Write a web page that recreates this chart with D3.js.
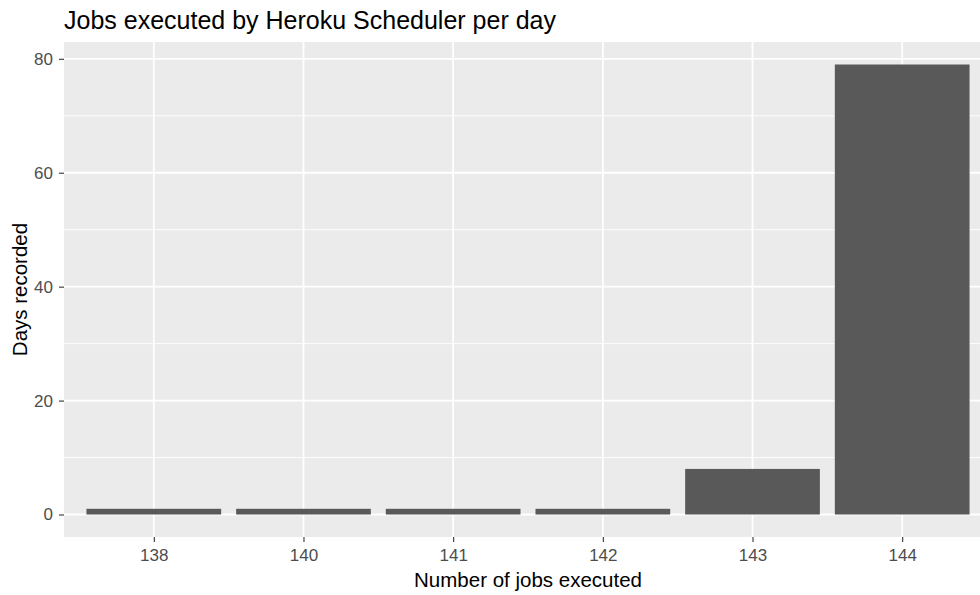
<!DOCTYPE html>
<html lang="en">
<head>
    <meta charset="UTF-8">
    <title>Jobs executed by Heroku Scheduler per day</title>
    <script src="https://d3js.org/d3.v7.min.js"></script>
    <style>
        body { margin: 0; background: #fff; }
        svg { display: block; font-family: Arial, "Liberation Sans", sans-serif; }
    </style>
</head>
<body>
    <div id="chart"></div>

    <script>
        const width = 980;
        const height = 595;

        // data
        const jobCounts = ["138", "140", "141", "142", "143", "144"];
        const daysRecorded = [1, 1, 1, 1, 8, 79];
        const yTicks = [0, 20, 40, 60, 80];
        const yMinor = [10, 30, 50, 70];

        const panel = { left: 64, top: 42, right: 992, bottom: 537 };

        const svg = d3.select("#chart")
                      .append("svg")
                      .attr("width", width)
                      .attr("height", height);

        // discrete x scale, ggplot style expansion (0.6 of a step each side)
        const n = jobCounts.length;
        const step = (panel.right - panel.left) / (n - 1 + 1.2);
        const x = d3.scalePoint()
                    .domain(jobCounts)
                    .range([panel.left + 0.6 * step, panel.right - 0.6 * step]);
        const barW = step * 0.9;

        const yMax = d3.max(daysRecorded);
        const y = d3.scaleLinear()
                    .domain([-0.05 * yMax, yMax * 1.05])
                    .range([panel.bottom, panel.top]);

        // panel background
        svg.append("rect")
           .attr("x", panel.left)
           .attr("y", panel.top)
           .attr("width", panel.right - panel.left)
           .attr("height", panel.bottom - panel.top)
           .attr("fill", "#ebebeb");

        // minor grid
        svg.append("g")
           .selectAll("line")
           .data(yMinor)
           .enter()
           .append("line")
           .attr("x1", panel.left).attr("x2", panel.right)
           .attr("y1", d => y(d)).attr("y2", d => y(d))
           .attr("stroke", "#fff").attr("stroke-width", 0.9);

        // major grid
        svg.append("g")
           .selectAll("line")
           .data(yTicks)
           .enter()
           .append("line")
           .attr("x1", panel.left).attr("x2", panel.right)
           .attr("y1", d => y(d)).attr("y2", d => y(d))
           .attr("stroke", "#fff").attr("stroke-width", 1.8);

        svg.append("g")
           .selectAll("line")
           .data(jobCounts)
           .enter()
           .append("line")
           .attr("x1", d => x(d)).attr("x2", d => x(d))
           .attr("y1", panel.top).attr("y2", panel.bottom)
           .attr("stroke", "#fff").attr("stroke-width", 1.8);

        // bars
        svg.append("g")
           .selectAll("rect")
           .data(jobCounts.map((k, i) => ({ k, v: daysRecorded[i] })))
           .enter()
           .append("rect")
           .attr("x", d => x(d.k) - barW / 2)
           .attr("width", barW)
           .attr("y", d => y(d.v))
           .attr("height", d => y(0) - y(d.v))
           .attr("fill", "#595959");

        // axes
        const xAxis = svg.append("g")
           .attr("transform", `translate(0,${panel.bottom})`)
           .call(d3.axisBottom(x).tickSizeOuter(0).tickSize(5).tickPadding(7));
        const yAxis = svg.append("g")
           .attr("transform", `translate(${panel.left},0)`)
           .call(d3.axisLeft(y).tickValues(yTicks).tickSizeOuter(0).tickSize(5).tickPadding(6));

        [xAxis, yAxis].forEach(a => {
            a.select(".domain").remove();
            a.selectAll(".tick line").attr("stroke", "#333").attr("stroke-width", 1.1);
            a.selectAll(".tick text")
             .attr("fill", "#4d4d4d")
             .style("font-size", "17px")
             .style("font-family", "Arial, 'Liberation Sans', sans-serif");
        });

        // titles
        svg.append("text")
           .attr("x", panel.left)
           .attr("y", 29)
           .attr("fill", "#000")
           .style("font-size", "25px")
           .text("Jobs executed by Heroku Scheduler per day");

        svg.append("text")
           .attr("x", (panel.left + panel.right) / 2)
           .attr("y", 587)
           .attr("text-anchor", "middle")
           .attr("fill", "#000")
           .style("font-size", "20.5px")
           .text("Number of jobs executed");

        svg.append("text")
           .attr("transform", `translate(27,${(panel.top + panel.bottom) / 2}) rotate(-90)`)
           .attr("text-anchor", "middle")
           .attr("fill", "#000")
           .style("font-size", "20.5px")
           .text("Days recorded");
    </script>
</body>
</html>
